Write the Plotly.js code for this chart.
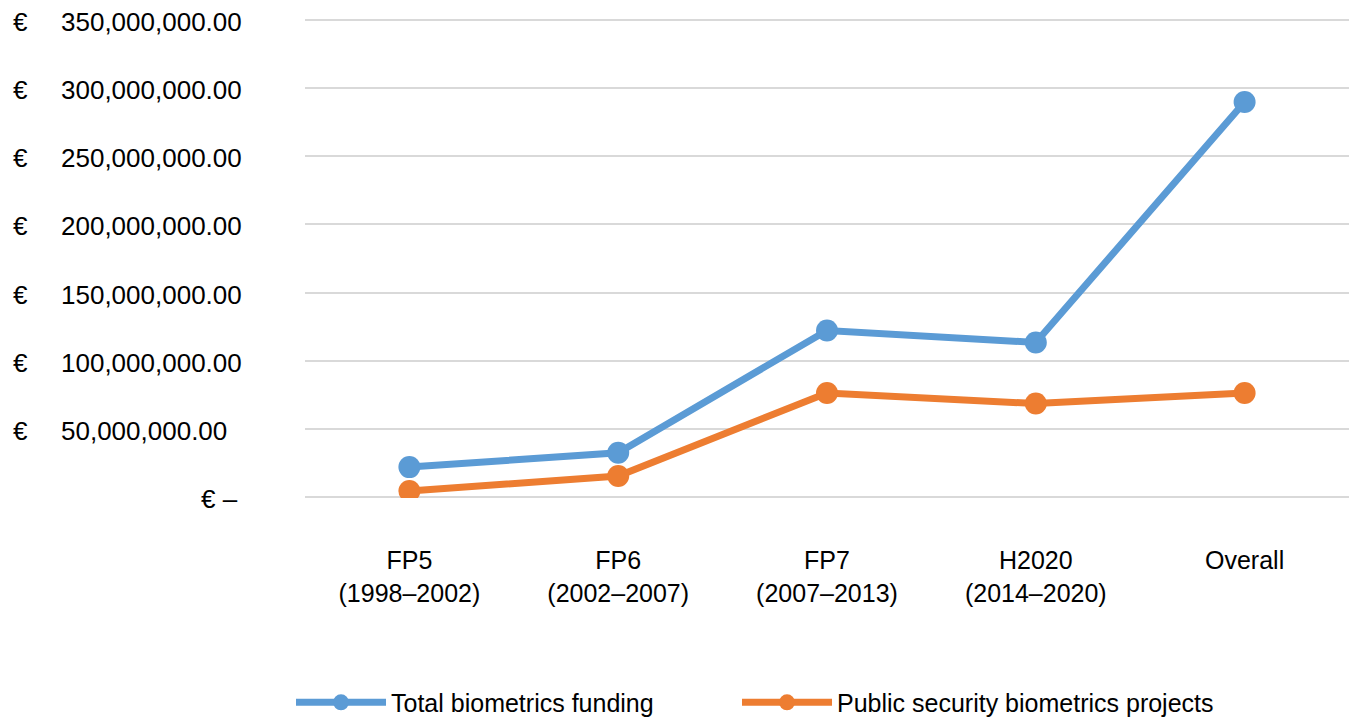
<!DOCTYPE html>
<html>
<head>
<meta charset="utf-8">
<script src="https://cdn.plot.ly/plotly-3.0.1.min.js"></script>
<style>html,body{margin:0;padding:0;background:#fff;}#chart{width:1349px;height:720px;}</style>
</head>
<body>
<div id="chart"></div>
<script>
const categories = ["FP5<br>(1998–2002)", "FP6<br>(2002–2007)", "FP7<br>(2007–2013)", "H2020<br>(2014–2020)", "Overall"];
const totalFunding = [21.7e6, 32.3e6, 122.1e6, 113.3e6, 290.0e6];
const publicSecurity = [4.1e6, 15.1e6, 76.2e6, 68.4e6, 76.2e6];
const seriesNames = ["Total biometrics funding", "Public security biometrics projects"];
const tickVals = [0, 50e6, 100e6, 150e6, 200e6, 250e6, 300e6, 350e6];
const tickNumbers = ["–", "50,000,000.00", "100,000,000.00", "150,000,000.00", "200,000,000.00", "250,000,000.00", "300,000,000.00", "350,000,000.00"];
const currency = "€";

const FONT = "Liberation Sans, Arial, sans-serif";
const FS = 25;
const YFS = 26;

const traces = [
  {x: categories, y: totalFunding, name: seriesNames[0], type: "scatter", mode: "lines+markers", legend: "legend",
   line: {color: "#5b9bd5", width: 7}, marker: {color: "#5b9bd5", size: 22}},
  {x: categories, y: publicSecurity, name: seriesNames[1], type: "scatter", mode: "lines+markers", legend: "legend2",
   line: {color: "#ed7d31", width: 7}, marker: {color: "#ed7d31", size: 22}}
];

const annotations = [];
tickVals.forEach((v, i) => {
  if (v === 0) {
    annotations.push({xref: "paper", yref: "y", x: -0.0623, y: v, xanchor: "right", yanchor: "middle",
      text: currency + " " + tickNumbers[i], showarrow: false, yshift: -2, font: {family: FONT, size: YFS, color: "#000"}});
  } else {
    annotations.push({xref: "paper", yref: "y", x: -0.2816, y: v, xanchor: "left", yanchor: "middle",
      text: currency, showarrow: false, yshift: -2, font: {family: FONT, size: YFS, color: "#000"}});
    annotations.push({xref: "paper", yref: "y", x: -0.2357, y: v, xanchor: "left", yanchor: "middle",
      text: tickNumbers[i], showarrow: false, yshift: -2, font: {family: FONT, size: YFS, color: "#000"}});
  }
});

const legendBase = {orientation: "h", xanchor: "left", y: -0.427, yanchor: "middle",
  font: {family: FONT, size: FS, color: "#000"}, itemwidth: 90, bgcolor: "rgba(0,0,0,0)"};

const layout = {
  width: 1349, height: 720,
  margin: {l: 305, r: 0, t: 19, b: 222, autoexpand: false},
  paper_bgcolor: "#fff", plot_bgcolor: "#fff",
  font: {family: FONT, size: FS, color: "#000"},
  showlegend: true,
  legend: Object.assign({}, legendBase, {x: -0.0134}),
  legend2: Object.assign({}, legendBase, {x: 0.4138}),
  xaxis: {type: "category", range: [-0.5, 4.5], showgrid: false, zeroline: false, showline: false, ticks: "",
    tickfont: {family: FONT, size: FS, color: "#000"}, ticklabelstandoff: 45, fixedrange: true},
  yaxis: {range: [-1e6, 351e6], tickvals: tickVals, showticklabels: false, showgrid: true,
    gridcolor: "#d9d9d9", gridwidth: 2, zeroline: false, showline: false, ticks: "", fixedrange: true},
  annotations: annotations,
  hovermode: false
};

Plotly.newPlot("chart", traces, layout, {displayModeBar: false, staticPlot: true});
</script>
</body>
</html>
